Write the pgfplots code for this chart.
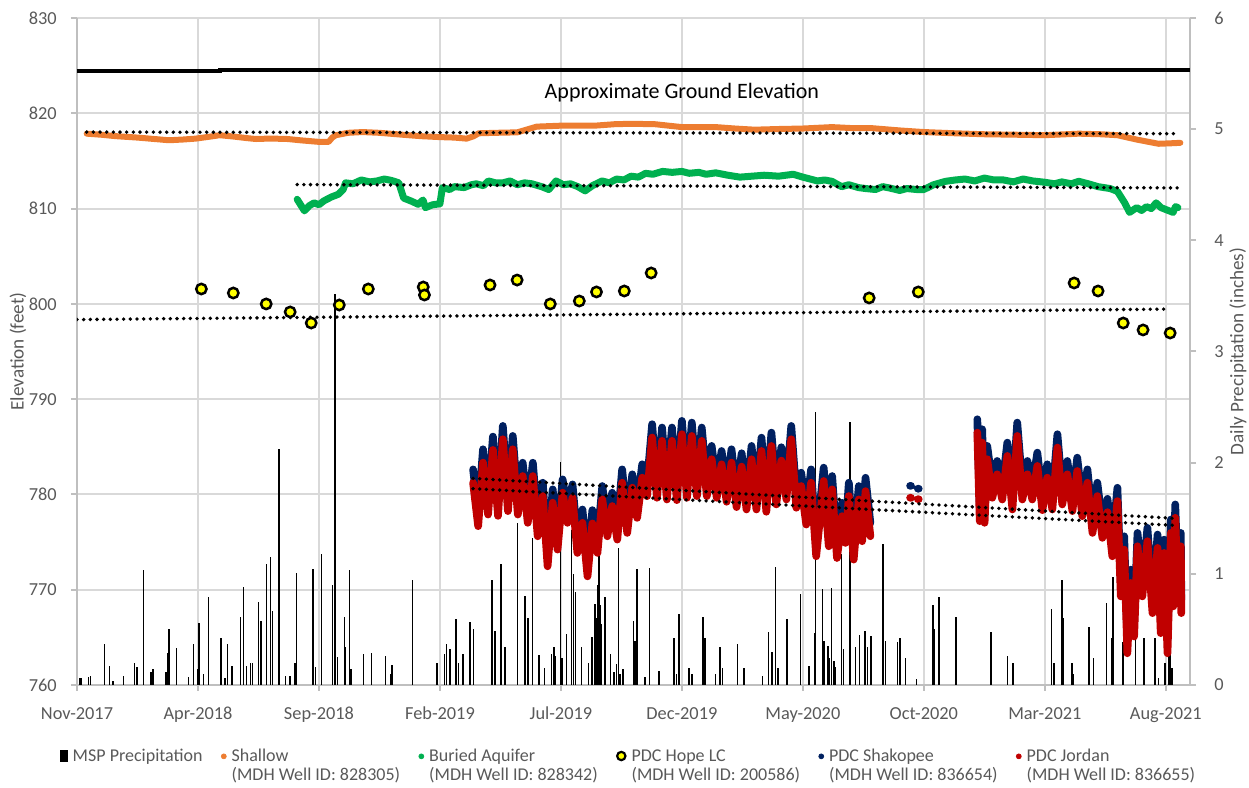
\documentclass[border=0pt]{standalone}
\usepackage{fontspec}
\setmainfont{Carlito}
\usepackage{pgfplots}
\pgfplotsset{compat=1.18}
\usepackage{pgfplotstable}
\definecolor{txt}{HTML}{595959}
\definecolor{gridc}{HTML}{D9D9D9}
\definecolor{axc}{HTML}{BFBFBF}
\definecolor{shallowc}{HTML}{ED7D31}
\definecolor{buriedc}{HTML}{00B050}
\definecolor{hopec}{HTML}{FFFF00}
\definecolor{shakc}{HTML}{002060}
\definecolor{jordc}{HTML}{C00000}
\tikzset{trend/.style={black, line width=2.3pt, dash pattern=on 0pt off 4pt, line cap=round}}
\newcommand\lgtwo[2]{\begin{tabular}[t]{@{}l@{}}#1\\#2\end{tabular}}

% PDC Shakopee / PDC Jordan (elevation, feet) vs months since Nov-2017
\pgfplotstableread{
m shak jord
16.37 782.63 781.23
16.58 778.07 776.67
16.78 784.74 783.34
16.99 779.29 777.89
17.19 786.07 784.67
17.40 779.15 777.75
17.60 787.19 785.79
17.81 779.65 778.25
18.01 786.14 784.74
18.22 779.29 777.89
18.42 783.33 781.93
18.63 778.42 777.02
18.84 783.33 781.93
19.04 777.01 775.61
19.25 781.23 779.83
19.45 773.86 772.46
19.66 780.53 779.13
19.86 775.61 774.21
20.07 781.58 780.18
20.27 778.42 777.02
20.48 781.05 779.65
20.68 775.26 773.86
20.89 778.42 777.02
21.10 772.80 771.40
21.30 778.35 776.95
21.51 775.26 773.86
21.71 780.88 779.48
21.92 777.01 775.61
22.12 780.18 778.78
22.33 776.66 775.26
22.53 782.63 781.23
22.74 777.36 775.96
22.95 782.11 780.71
23.15 778.94 777.54
23.36 783.16 781.76
23.56 781.22 779.82
23.77 787.37 785.97
23.97 781.05 779.65
24.18 787.02 785.62
24.38 780.87 779.47
24.59 787.02 785.62
24.79 780.80 779.40
25.00 787.72 786.32
25.21 781.05 779.65
25.41 787.54 786.14
25.62 781.22 779.82
25.82 787.02 785.62
26.03 781.22 779.82
26.23 785.09 783.69
26.44 781.05 779.65
26.64 784.56 783.16
26.85 780.63 779.23
27.05 784.74 783.34
27.26 780.07 778.67
27.47 784.32 782.92
27.67 779.82 778.42
27.88 785.09 783.69
28.08 779.82 778.42
28.29 785.96 784.56
28.49 779.58 778.18
28.70 786.49 785.09
28.90 780.35 778.95
29.11 784.95 783.55
29.32 780.87 779.47
29.52 787.19 785.79
29.73 780.00 778.60
29.93 782.28 780.88
30.14 778.24 776.84
30.34 782.63 781.23
30.55 774.91 773.51
30.86 782.81 781.41
31.07 775.96 774.56
31.21 781.93 780.53
31.41 774.73 773.33
31.62 779.12 777.72
31.76 776.31 774.91
31.90 781.23 779.83
32.10 774.56 773.16
32.31 780.88 779.48
32.45 776.49 775.09
32.59 781.75 780.35
32.79 777.01 775.61
33.50 nan nan
34.43 780.90 779.65
34.47 780.90 779.65
34.60 nan nan
34.75 780.60 779.50
34.79 780.60 779.50
36.00 nan nan
37.21 787.89 786.49
37.31 778.59 777.19
37.41 786.84 785.44
37.51 778.42 777.02
37.62 785.09 783.69
37.83 781.05 779.65
38.03 783.51 782.11
38.24 780.87 779.47
38.45 785.44 784.04
38.66 779.82 778.42
38.86 787.54 786.14
39.07 780.87 779.47
39.28 783.51 782.11
39.48 780.87 779.47
39.69 784.39 782.99
39.90 779.75 778.35
40.10 783.16 781.76
40.31 779.82 778.42
40.52 786.32 784.92
40.72 780.35 778.95
40.93 783.51 782.11
41.14 779.65 778.25
41.34 783.86 782.46
41.55 779.12 777.72
41.76 782.63 781.23
41.97 777.36 775.96
42.17 781.23 779.83
42.38 776.84 775.44
42.59 779.54 778.14
42.79 774.91 773.51
43.00 780.70 779.30
43.14 770.70 769.30
43.28 775.61 774.21
43.41 764.73 763.33
43.55 772.11 770.71
43.69 766.49 765.09
43.83 775.96 774.56
44.03 770.70 769.30
44.24 776.49 775.09
44.45 768.94 767.54
44.66 775.79 774.39
44.79 766.84 765.44
44.93 775.26 773.86
45.07 764.73 763.33
45.21 777.37 775.97
45.31 769.65 768.25
45.39 778.95 777.55
45.50 771.05 769.65
45.62 775.96 774.56
45.64 768.94 767.54
}\wells

% MSP daily precipitation (inches)
\pgfplotstableread{
m p
0.12 0.06
0.19 0.06
0.47 0.07
0.57 0.08
1.13 0.37
1.35 0.17
1.48 0.04
1.91 0.08
2.37 0.20
2.48 0.16
2.74 1.03
3.05 0.12
3.14 0.14
3.67 0.12
3.73 0.29
3.81 0.50
4.12 0.33
4.62 0.07
4.81 0.37
4.97 0.14
5.05 0.56
5.22 0.10
5.43 0.79
5.96 0.42
6.12 0.06
6.21 0.37
6.40 0.17
6.75 0.61
6.89 0.88
7.01 0.17
7.16 0.20
7.26 0.20
7.51 0.75
7.60 0.58
7.82 1.09
7.99 1.15
8.07 0.67
8.35 2.12
8.61 0.08
8.80 0.08
9.01 0.20
9.08 1.01
9.76 1.04
9.86 0.16
10.11 1.18
10.57 0.90
10.66 3.52
10.77 0.25
11.05 0.61
11.10 0.34
11.27 1.03
11.33 0.14
11.83 0.28
12.16 0.29
12.76 0.26
12.95 0.10
13.02 0.18
13.87 0.94
14.88 0.20
15.19 0.28
15.28 0.37
15.41 0.32
15.67 0.59
15.77 0.20
15.96 0.28
16.24 0.57
16.39 0.50
17.15 0.94
17.27 0.49
17.52 1.09
17.69 0.34
18.21 1.46
18.52 0.80
18.64 0.60
18.83 1.32
19.10 0.27
19.33 0.15
19.62 0.28
19.71 0.34
19.78 0.26
19.99 2.01
20.05 0.24
20.24 0.46
20.44 1.39
20.51 1.00
20.61 0.84
20.86 0.34
21.13 0.20
21.29 0.43
21.40 0.73
21.45 0.60
21.50 0.82
21.53 0.90
21.57 1.25
21.62 0.72
21.65 0.55
21.82 0.79
22.05 0.28
22.19 0.12
22.29 0.19
22.37 1.23
22.45 0.10
22.57 0.14
22.99 0.58
23.06 0.40
23.14 1.04
23.47 0.07
23.65 1.05
24.06 0.13
24.68 0.42
24.78 0.10
24.88 0.64
25.29 0.15
25.41 0.10
25.88 0.61
25.95 0.42
26.39 0.10
26.57 0.34
26.68 0.15
27.31 0.37
27.57 0.15
28.33 0.08
28.58 0.48
28.73 0.30
28.88 1.06
28.98 0.15
29.35 0.59
29.90 0.82
30.26 0.17
30.47 0.47
30.52 2.46
30.81 0.86
30.87 0.40
31.03 0.35
31.09 0.24
31.19 0.87
31.28 0.22
31.36 0.16
31.60 1.18
31.67 0.32
31.94 2.37
32.18 0.34
32.33 0.45
32.56 0.49
32.67 0.34
32.81 0.44
33.28 0.53
33.32 1.27
33.42 0.40
33.90 0.39
34.01 0.42
34.24 0.24
34.70 0.05
35.38 0.72
35.43 0.50
35.63 0.79
36.32 0.61
36.35 0.40
37.77 0.48
38.46 0.26
38.68 0.20
40.28 0.68
40.38 0.20
40.71 0.94
40.76 0.60
41.12 0.20
41.17 0.10
41.83 0.52
42.00 0.24
42.55 0.74
42.76 0.42
42.82 0.97
43.23 0.39
43.75 0.67
44.09 0.42
44.55 0.42
44.69 0.06
44.96 0.20
45.14 0.32
45.20 0.30
45.25 0.15
}\precip

\pgfplotsset{
  base/.style={at={(0,0)}, anchor=south west, scale only axis,
    width=667.8pt, height=400.2pt, xmin=0, xmax=46},
}

\begin{document}
\begin{tikzpicture}
\useasboundingbox (-46.2pt,-61.8pt) rectangle (703.2pt,411pt);

% ---------- axis 1: grid, left axis, x axis, legend ----------
\begin{axis}[base,
  ymin=760, ymax=830,
  axis x line*=bottom, axis y line*=left,
  axis line style={draw=axc, line width=1.2pt},
  xtick={0,5,...,45},
  xticklabels={Nov-2017,Apr-2018,Sep-2018,Feb-2019,Jul-2019,Dec-2019,May-2020,Oct-2020,Mar-2021,Aug-2021},
  ytick={760,770,...,830},
  grid=major, major grid style={draw=gridc, line width=1.2pt},
  tick align=outside, major tick length=3.6pt,
  tick style={draw=axc, line width=1.2pt},
  /pgf/number format/assume math mode=true,
  ticklabel style={font=\fontsize{11}{13}\selectfont, text=txt, inner sep=0pt},
  xticklabel style={yshift=-9.5pt},
  yticklabel style={xshift=-8.4pt},
  ylabel={Elevation (feet)},
  ylabel style={font=\fontsize{11.5}{13}\selectfont, text=txt,
    at={(axis description cs:-0.053,0.5)}, anchor=center},
  legend columns=6,
  legend style={
    at={(axis description cs:-0.0155,-0.0937)}, anchor=north west,
    draw=none, fill=none, inner sep=0pt, outer sep=0pt,
    nodes={inner sep=0pt, font=\fontsize{10.8}{11.6}\selectfont, text=txt},
    cells={anchor=base west},
    /tikz/every odd column/.append style={column sep=3pt},
    /tikz/every even column/.append style={column sep=11pt},
  },
]
\addlegendimage{legend image code/.code={\fill[black] (-2.2pt,0pt) rectangle (2.2pt,6.2pt);}}
\addlegendentry{MSP Precipitation}
\addlegendimage{legend image code/.code={\fill[shallowc] (0pt,2.8pt) circle (1.5pt);}}
\addlegendentry{\lgtwo{Shallow}{(MDH Well ID: 828305)}}
\addlegendimage{legend image code/.code={\fill[buriedc] (0pt,2.8pt) circle (1.5pt);}}
\addlegendentry{\lgtwo{Buried Aquifer}{(MDH Well ID: 828342)}}
\addlegendimage{legend image code/.code={\filldraw[fill=hopec, draw=black, line width=1.3pt] (0pt,3pt) circle (2.5pt);}}
\addlegendentry{\lgtwo{PDC Hope LC}{(MDH Well ID: 200586)}}
\addlegendimage{legend image code/.code={\fill[shakc] (0pt,2.8pt) circle (1.5pt);}}
\addlegendentry{\lgtwo{PDC Shakopee}{(MDH Well ID: 836654)}}
\addlegendimage{legend image code/.code={\fill[jordc] (0pt,2.8pt) circle (1.5pt);}}
\addlegendentry{\lgtwo{PDC Jordan}{(MDH Well ID: 836655)}}
\end{axis}

% ---------- axis 2: precipitation, right axis ----------
\begin{axis}[base,
  ymin=0, ymax=6,
  axis x line=none, axis y line*=right,
  axis line style={draw=axc, line width=1.2pt},
  ytick={0,1,...,6},
  tick align=outside, major tick length=3.6pt,
  tick style={draw=axc, line width=1.2pt},
  /pgf/number format/assume math mode=true,
  ticklabel style={font=\fontsize{11}{13}\selectfont, text=txt, inner sep=0pt},
  yticklabel style={xshift=10.8pt},
  ylabel={Daily Precipitation (inches)},
  ylabel style={font=\fontsize{11.5}{13}\selectfont, text=txt,
    at={(axis description cs:1.043,0.5)}, anchor=center},
]
\addplot[ycomb, black, line width=0.85pt, mark=none] table[x=m, y=p] {\precip};
\end{axis}

% ---------- axis 3: well elevations ----------
\begin{axis}[base, ymin=760, ymax=830, hide axis, unbounded coords=jump]
% approximate ground elevation
\addplot[black, line width=2.4pt] coordinates {(0,824.42) (5.9,824.42) (5.9,824.56) (46,824.56)};
% Shallow
\addplot[shallowc, line width=3.6pt, line join=round, line cap=round] coordinates {
(0.40,817.86) (1.0,817.75) (1.6,817.60) (2.5,817.45) (3.2,817.30) (3.8,817.17)
(4.4,817.25) (4.9,817.34) (5.5,817.55) (5.9,817.70) (6.5,817.55) (7.0,817.40)
(7.4,817.30) (8.0,817.35) (8.7,817.30) (9.3,817.15) (10.0,817.00) (10.4,817.00)
(10.55,817.45) (10.7,817.70) (11.2,817.95) (11.8,818.03) (12.5,817.95) (13.4,817.76)
(14.2,817.60) (15.0,817.50) (15.6,817.45) (16.1,817.34) (16.4,817.60) (16.6,817.90)
(17.3,817.95) (18.2,818.00) (18.6,818.30) (19.0,818.60) (20.0,818.70) (21.4,818.70)
(22.2,818.85) (22.9,818.90) (23.9,818.85) (25.0,818.55) (26.4,818.55) (27.2,818.40)
(28.0,818.28) (29.0,818.35) (30.0,818.40) (31.2,818.55) (32.0,818.45) (32.8,818.45)
(34.0,818.20) (35.0,818.03) (36.3,817.90) (37.5,817.80) (38.8,817.75) (40.0,817.70)
(41.4,817.86) (42.3,817.80) (43.0,817.70) (43.8,817.24) (44.7,816.80) (45.2,816.85)
(45.6,816.90)};
% Buried aquifer
\addplot[buriedc, line width=4.2pt, line join=round, line cap=round] coordinates {
(9.1,810.97) (9.4,809.76) (9.6,810.3) (9.8,810.6) (10.0,810.4) (10.2,810.8) (10.5,811.2) (10.8,811.5)
(11.0,812.0) (11.1,812.7) (11.4,812.6) (11.75,813.0) (12.1,812.8) (12.4,812.9) (12.7,813.1) (13.0,812.95) (13.3,812.7) (13.5,811.1)
(13.8,810.8) (14.1,810.45) (14.3,810.9) (14.4,810.1) (14.7,810.4) (15.0,810.5) (15.1,812.2)
(15.4,812.0) (15.6,812.3) (16.0,812.2) (16.3,812.5) (16.5,812.6) (16.8,812.4) (17.0,812.9) (17.3,812.7) (17.6,812.7) (17.9,812.9) (18.2,812.5)
(18.5,812.7) (18.8,812.6) (19.2,812.3) (19.5,812.0) (19.8,812.9) (20.1,812.5) (20.4,812.6) (20.7,812.3) (21.0,811.86) (21.3,812.4) (21.7,812.9)
(22.0,812.7) (22.3,813.1) (22.6,813.0) (22.9,813.4) (23.2,813.3) (23.5,813.7) (23.8,813.6) (24.2,813.9) (24.6,813.8) (25.0,813.9) (25.3,813.7) (25.7,813.8)
(26.0,813.6) (26.4,813.75) (26.9,813.5) (27.4,813.3) (27.9,813.4) (28.4,813.5) (29.0,813.4) (29.6,813.6) (30.0,813.3) (30.3,813.1) (30.6,812.9)
(30.9,813.0) (31.2,812.86) (31.6,812.3) (31.9,812.5) (32.3,812.2) (32.6,812.1) (33.0,812.0) (33.3,812.3) (33.6,812.15) (34.0,811.9) (34.3,812.1)
(34.7,812.0) (35.0,812.0) (35.4,812.5) (35.9,812.86) (36.3,813.0) (36.7,813.1) (37.1,812.9) (37.5,813.2) (37.9,813.0) (38.3,813.0)
(38.7,812.8) (39.1,813.1) (39.5,812.9) (40.0,812.76) (40.4,812.6) (40.7,812.8) (41.1,812.6) (41.4,812.86) (41.8,812.6) (42.2,812.3) (42.7,812.1)
(43.0,811.8) (43.3,810.6) (43.5,809.6) (43.8,810.1) (44.0,809.8) (44.2,810.2) (44.4,810.0) (44.6,810.6) (44.8,810.1) (45.0,809.9) (45.3,809.6)
(45.4,810.2) (45.5,810.1)};
% PDC Shakopee and PDC Jordan
\addplot[shakc, line width=4.6pt, line join=round, line cap=round] table[x=m, y=shak] {\wells};
\addplot[jordc, line width=4.6pt, line join=round, line cap=round] table[x=m, y=jord] {\wells};
% trend lines
\addplot[trend] coordinates {(0.40,818.03) (45.5,817.86)};
\addplot[trend] coordinates {(9.1,812.52) (45.5,812.17)};
\addplot[trend] coordinates {(0.0,798.35) (45.1,799.45)};
\addplot[trend] coordinates {(16.37,781.68) (45.48,777.47)};
\addplot[trend] coordinates {(16.37,780.60) (45.48,776.74)};
% PDC Hope LC
\addplot[only marks, mark=*, mark size=3.1pt, mark options={fill=hopec, draw=black, line width=1.5pt}] coordinates {
(5.14,801.56) (6.46,801.14) (7.82,799.99) (8.81,799.15) (9.68,797.99) (10.84,799.88)
(12.04,801.56) (14.31,801.77) (14.36,800.93) (17.07,801.98) (18.19,802.50) (19.56,799.99)
(20.76,800.30) (21.47,801.25) (22.62,801.35) (23.73,803.24) (32.74,800.62) (34.77,801.25)
(41.21,802.19) (42.20,801.35) (43.24,797.99) (44.06,797.26) (45.18,796.94)};
\node[font=\fontsize{13.2}{15}\selectfont, text=black] at (axis cs:25,822.15) {Approximate Ground Elevation};
\end{axis}
\end{tikzpicture}
\end{document}
